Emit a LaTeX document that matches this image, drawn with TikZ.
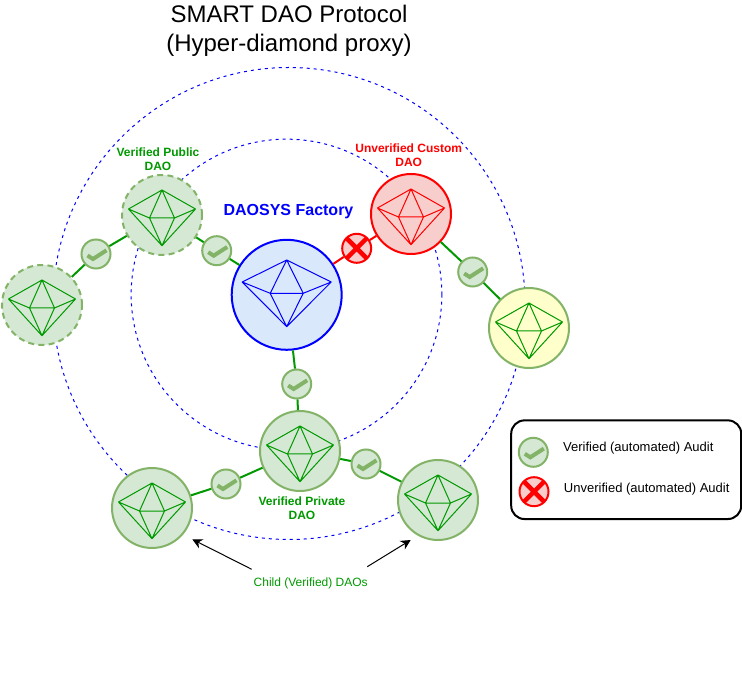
\documentclass[tikz,border=0pt]{standalone}
\usepackage{fontspec}
\setmainfont{Liberation Sans}
\usetikzlibrary{arrows.meta}
\definecolor{gfill}{HTML}{D5E8D4}
\definecolor{gline}{HTML}{82B366}
\definecolor{gtext}{HTML}{009900}
\definecolor{rfill}{HTML}{F8CECC}
\definecolor{bfill}{HTML}{DAE8FC}
\definecolor{yfill}{HTML}{FFFFCC}
\tikzset{
  x=0.75pt,y=-0.75pt,
  dao/.style={circle,draw=gline,fill=gfill,line width=1.5pt,inner sep=0pt,minimum size=60pt},
  daodash/.style={dao,dash pattern=on 4.5pt off 3.2pt},
  audit/.style={circle,draw=gline,fill=gfill,line width=1.5pt,inner sep=0pt,minimum size=21.75pt},
  auditx/.style={audit,draw=red,fill=rfill},
  orbit/.style={circle,draw=blue,line width=0.75pt,dash pattern=on 2.25pt off 3pt,inner sep=0pt},
  link/.style={draw=gtext,line width=1.5pt},
  badlink/.style={draw=red,line width=1.5pt},
  tick/.style={draw=gline,line width=3pt,miter limit=10},
  cross/.style={draw=red,line width=3.4pt},
  lbl/.style={align=center,inner sep=0pt,font=\fontsize{9}{10.9}\selectfont\bfseries},
  plain/.style={align=center,inner sep=0pt,font=\fontsize{9}{11}\selectfont},
  legendtext/.style={inner sep=0pt,font=\fontsize{9.75}{11}\selectfont},
  pointer/.style={draw=black,line width=0.75pt,-{Stealth[length=7.5pt,width=7.5pt]}},
  gem/.pic={
    \draw[line width=0.75pt,line join=round,pic actions]
      (0,-25)--(-33.5,-6)--(0,30.7)--(33.5,-6)--cycle
      (0,-25)--(-12.5,3)--(0,30.7)--(12.5,3)--cycle
      (-33.5,-6)--(-12.5,3)--(12.5,3)--(33.5,-6);
  },
  biggem/.pic={
    \draw[line width=0.75pt,line join=round,pic actions]
      (0,-34.8)--(-44.5,-12.8)--(0,31.9)--(44.5,-12.8)--cycle
      (0,-34.8)--(-16.5,-1.5)--(0,31.9)--(16.5,-1.5)--cycle
      (-44.5,-12.8)--(-16.5,-1.5)--(16.5,-1.5)--(44.5,-12.8);
  },
  tickmark/.pic={\draw[tick] (-8.5,1.5)--(-3,5)--(10.5,-3.7);},
  crossmark/.pic={\draw[cross] (-10,-10)--(10,10) (-10,10)--(10,-10);},
}
\begin{document}
\begin{tikzpicture}
\useasboundingbox (0,0) rectangle (742,680);
\fill[white] (0,0) rectangle (742,680);

% orbits
\node[orbit,minimum size=354pt] (outer) at (289,303.5) {};
\node[orbit,minimum size=233pt] (inner) at (286.5,294.5) {};

% nodes
\node[dao,draw=blue,fill=bfill,minimum size=82.5pt] (factory) at (286.7,294.8) {};
\node[daodash] (public) at (162,215) {};
\node[daodash] (left) at (42,305) {};
\node[dao,draw=red,fill=rfill] (custom) at (411,214) {};
\node[dao,fill=yfill] (yellow) at (529,328) {};
\node[dao] (private) at (300,451) {};
\node[dao] (childl) at (152,508) {};
\node[dao] (childr) at (438,500) {};

\node[audit] (a1) at (96,254) {};
\node[audit] (a2) at (216.7,250.7) {};
\node[audit] (a3) at (472.7,272) {};
\node[audit] (a4) at (296.7,384) {};
\node[audit] (a5) at (226,484) {};
\node[audit] (a6) at (366,464) {};
\node[auditx] (x1) at (356.7,248.3) {};

% connectors
\path[link] (left) -- (a1) (a1) -- (public);
\path[link] (public) -- (a2) (a2) -- (factory);
\path[link] (custom) -- (a3) (a3) -- (yellow);
\path[link] (factory) -- (a4) (a4) -- (private);
\path[link] (private) -- (a5) (a5) -- (childl);
\path[link] (private) -- (a6) (a6) -- (childr);
\path[badlink] (factory) -- (x1) (x1) -- (custom);

% gems
\pic[draw=blue] at (factory.center) {biggem};
\pic[draw=gtext] at (public.center) {gem};
\pic[draw=gtext] at (left.center) {gem};
\pic[draw=red] at (custom.center) {gem};
\pic[draw=gtext] at (yellow.center) {gem};
\pic[draw=gtext] at (private.center) {gem};
\pic[draw=gtext] at (childl.center) {gem};
\pic[draw=gtext] at (childr.center) {gem};

% marks
\pic at (a1.center) {tickmark};
\pic at (a2.center) {tickmark};
\pic at (a3.center) {tickmark};
\pic at (a4.center) {tickmark};
\pic at (a5.center) {tickmark};
\pic at (a6.center) {tickmark};
\pic at (x1.center) {crossmark};

% texts
\node[align=center,inner sep=0pt,font=\fontsize{18}{21.6}\selectfont] (title) at (289,31) {SMART DAO Protocol\\(Hyper-diamond proxy)};
\node[inner sep=0pt,text=blue,font=\fontsize{12}{14}\selectfont\bfseries] (tfactory) at (288.5,212) {DAOSYS Factory};
\node[lbl,text=gtext] (tpublic) at (158,159) {Verified Public\\DAO};
\node[lbl,text=red] (tcustom) at (408.7,155) {Unverified Custom\\DAO};
\node[lbl,text=gtext] (tprivate) at (302,508) {Verified Private\\DAO};
\node[plain,text=gtext] (tchild) at (310.7,583) {Child (Verified) DAOs};

% pointers
\coordinate (pa) at (251.7,569.3);
\coordinate (pb) at (192.3,539.3);
\coordinate (pc) at (367.3,566.7);
\coordinate (pd) at (410.7,540);
\draw[pointer] (pa) -- (pb);
\draw[pointer] (pc) -- (pd);

% legend
\node[draw=black,line width=1.5pt,rounded corners=10pt,minimum width=172.5pt,minimum height=74pt,inner sep=0pt,fill=white] (legend) at (626.2,469.7) {};
\node[audit] (la) at (533.3,452.3) {};
\node[auditx] (lx) at (534,491.7) {};
\pic at (la.center) {tickmark};
\pic at (lx.center) {crossmark};
\node[legendtext] (tla) at (638.3,448) {Verified (automated) Audit};
\node[legendtext] (tlx) at (646.7,489) {Unverified (automated) Audit};
\end{tikzpicture}
\end{document}
